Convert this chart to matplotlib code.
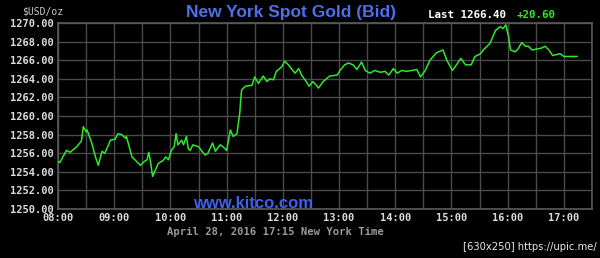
import matplotlib
matplotlib.use("Agg")
import matplotlib.pyplot as plt
import numpy as np

# minutes after 08:00 New York time
minutes = [0, 2, 9, 13, 20, 25, 27, 30, 31, 36, 40, 43, 47, 50, 56, 61, 64, 68, 72, 73,
           79, 82, 88, 92, 95, 97, 99, 101, 104, 107, 112, 115, 118, 121, 124, 126, 128,
           132, 134, 137, 139, 141, 144, 150, 153, 157, 160, 165, 168, 173, 176, 180, 184,
           187, 191, 194, 195, 196, 200, 207, 210, 214, 219, 223, 226, 230, 233, 239, 242,
           246, 249, 253, 257, 260, 265, 268, 272, 275, 278, 283, 290, 298, 301, 306, 310,
           315, 319, 324, 328, 333, 338, 344, 349, 353, 358, 362, 367, 372, 378, 383, 387,
           392, 397, 404, 411, 415, 421, 426, 430, 435, 441, 445, 451, 454, 461, 467, 472,
           475, 478, 481, 483, 488, 491, 495, 499, 502, 506, 511, 516, 520, 524, 528, 532,
           536, 540, 554]
prices = [1255.1, 1255.0, 1256.3, 1256.1, 1256.7, 1257.3, 1258.85, 1258.3, 1258.5, 1257.1,
          1255.6, 1254.7, 1256.2, 1256.0, 1257.4, 1257.5, 1258.1, 1258.0, 1257.6, 1257.8,
          1255.6, 1255.3, 1254.7, 1255.1, 1255.3, 1256.1, 1254.9, 1253.5, 1254.2, 1254.9,
          1255.2, 1255.6, 1255.3, 1256.3, 1256.7, 1258.1, 1256.9, 1257.4, 1256.9, 1257.8,
          1256.5, 1256.3, 1256.9, 1256.7, 1256.3, 1255.8, 1256.0, 1257.1, 1256.2, 1256.9,
          1256.7, 1256.3, 1258.5, 1257.8, 1258.1, 1260.3, 1261.7, 1262.8, 1263.2, 1263.3,
          1264.2, 1263.5, 1264.3, 1263.7, 1264.0, 1263.9, 1264.8, 1265.3, 1265.9, 1265.5,
          1265.1, 1264.6, 1265.1, 1264.4, 1263.7, 1263.2, 1263.7, 1263.4, 1263.0, 1263.7,
          1264.3, 1264.4, 1264.9, 1265.5, 1265.7, 1265.5, 1265.0, 1265.8, 1264.9, 1264.6,
          1264.9, 1264.7, 1264.8, 1264.4, 1265.1, 1264.6, 1264.9, 1264.8, 1264.9, 1265.0,
          1264.2, 1264.9, 1266.0, 1266.8, 1267.1, 1266.0, 1264.9, 1265.6, 1266.2, 1265.5,
          1265.5, 1266.4, 1266.7, 1267.1, 1267.8, 1269.2, 1269.6, 1269.4, 1269.8, 1268.5,
          1267.1, 1266.9, 1267.2, 1267.9, 1267.5, 1267.5, 1267.1, 1267.2, 1267.3, 1267.5,
          1267.1, 1266.5, 1266.6, 1266.7, 1266.4, 1266.4]

x_ticks = list(range(0, 600, 60))
x_labels = ["08:00", "09:00", "10:00", "11:00", "12:00", "13:00", "14:00", "15:00", "16:00", "17:00"]
y_ticks = [1250, 1252, 1254, 1256, 1258, 1260, 1262, 1264, 1266, 1268, 1270]

title = "New York Spot Gold (Bid)"
last_text = "Last 1266.40"
change_text = "+20.60"
date_text = "April 28, 2016 17:15 New York Time"

fig = plt.figure(figsize=(6, 2.58), dpi=100, facecolor="black")
ax = fig.add_axes([58/600, 1 - 209/258, 534/600, 186/258], facecolor="black")

ax.set_xlim(0, 570)
ax.set_ylim(1250, 1270)
ax.set_xticks(x_ticks)
ax.set_xticklabels(x_labels)
ax.set_xticks(list(range(30, 571, 60)), minor=True)
ax.set_yticks(y_ticks)
ax.set_yticklabels([f"{v:.2f}" for v in y_ticks])

grid_col = "#4a4a4a"
ax.grid(True, which="both", color=grid_col, linewidth=1.0)
ax.set_axisbelow(True)
for s in ax.spines.values():
    s.set_color("#5a5a5a")
    s.set_linewidth(1.2)
ax.tick_params(which="both", length=0, colors="#dcdcdc", labelsize=7.5, pad=3)
for lab in ax.get_xticklabels() + ax.get_yticklabels():
    lab.set_fontfamily("DejaVu Sans Mono")
    lab.set_fontweight("bold")

ax.plot(minutes, prices, color="#2ee82e", linewidth=1.1, zorder=3)

fig.text(63/600, 1 - 11/258, "$USD/oz", color="#c8c8c8", fontsize=7,
         family="DejaVu Sans Mono", ha="right", va="center")
fig.text(291/600, 1 - 12/258, title, color="#4f6fe8", fontsize=12.5,
         family="Liberation Sans", fontweight="bold", ha="center", va="center")
fig.text(428/600, 1 - 15/258, last_text, color="white", fontsize=7.8,
         family="DejaVu Sans Mono", fontweight="bold", ha="left", va="center")
fig.text(517/600, 1 - 15/258, change_text, color="#2ee82e", fontsize=7.8,
         family="DejaVu Sans Mono", fontweight="bold", ha="left", va="center")
fig.text(253/600, 1 - 203/258, "www.kitco.com", color="#3f5ff0", fontsize=12,
         family="Liberation Sans", fontweight="bold", ha="center", va="center")
fig.text(275/600, 1 - 232/258, date_text, color="#9a9a9a", fontsize=7.6,
         family="DejaVu Sans Mono", fontweight="bold", ha="center", va="center")
fig.text(597/600, 1 - 247/258, "[630x250] https://upic.me/", color="#e8e8e8", fontsize=7.2,
         family="DejaVu Sans", ha="right", va="center")

fig.savefig("out.png", dpi=100, facecolor="black")
